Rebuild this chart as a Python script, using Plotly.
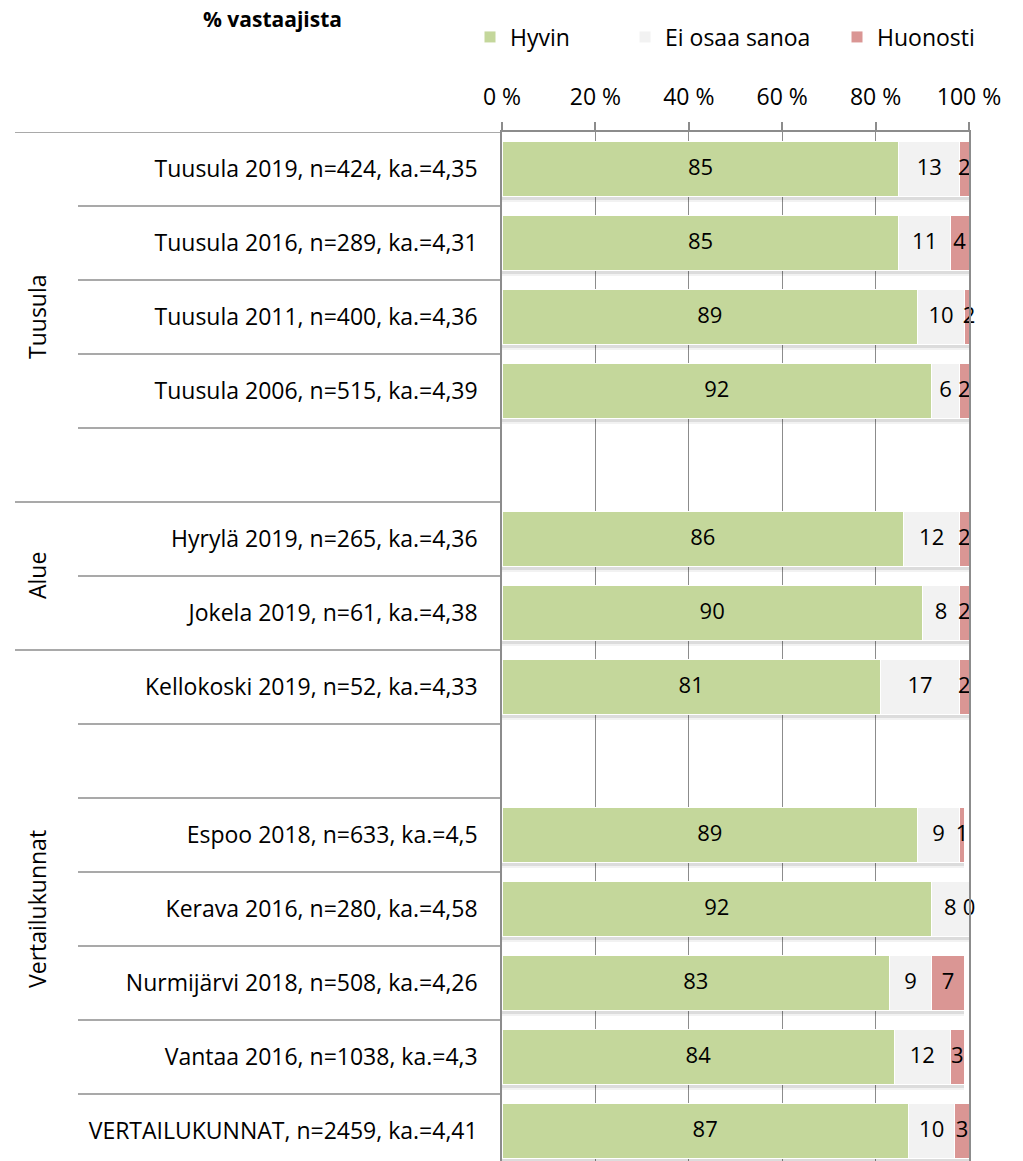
import plotly.graph_objects as go

# Survey rows (top to bottom); empty strings are spacer rows
categories = [
    "Tuusula 2019, n=424, ka.=4,35",
    "Tuusula 2016, n=289, ka.=4,31",
    "Tuusula 2011, n=400, ka.=4,36",
    "Tuusula 2006, n=515, ka.=4,39",
    "",
    "Hyrylä 2019, n=265, ka.=4,36",
    "Jokela 2019, n=61, ka.=4,38",
    "Kellokoski 2019, n=52, ka.=4,33",
    "",
    "Espoo 2018, n=633, ka.=4,5",
    "Kerava 2016, n=280, ka.=4,58",
    "Nurmijärvi 2018, n=508, ka.=4,26",
    "Vantaa 2016, n=1038, ka.=4,3",
    "VERTAILUKUNNAT, n=2459, ka.=4,41",
]

hyvin = [85, 85, 89, 92, None, 86, 90, 81, None, 89, 92, 83, 84, 87]
ei_osaa_sanoa = [13, 11, 10, 6, None, 12, 8, 17, None, 9, 8, 9, 12, 10]
huonosti = [2, 4, 2, 2, None, 2, 2, 2, None, 1, 0, 7, 3, 3]

series_names = ["Hyvin", "Ei osaa sanoa", "Huonosti"]
series_colors = ["#C4D79B", "#F2F2F2", "#DA9694"]

groups = ["Tuusula", "Alue", "Vertailukunnat"]
group_rows = [(0, 4), (5, 6), (7, 13)]

x_ticks = [0, 20, 40, 60, 80, 100]
x_ticklabels = ["0 %", "20 %", "40 %", "60 %", "80 %", "100 %"]

title_text = "% vastaajista"

# ---- layout geometry (pixels) ----
W, H = 1023, 1161
L, R, T, B = 502, 54, 132, 0
ROW_PX = 74
plot_w = W - L - R
plot_h = H - T - B
n_rows = len(categories)
y_bottom = -0.5 + plot_h / ROW_PX  # rows beyond the page edge are cut off


def px_x(px):
    return (px - L) / plot_w


def px_y(py):
    return (H - B - py) / plot_h


FONT = "Open Sans, Noto Sans, sans-serif"
LINE_COL = "#8C8C8C"
BAR_W = 0.73
LABEL_SIZE = 23
VALUE_SIZE = 22

rows = list(range(n_rows))
fig = go.Figure()

# soft drop shadow under each stacked bar (two layers for a gradient)
totals = []
for a, b, c in zip(hyvin, ei_osaa_sanoa, huonosti):
    totals.append(None if a is None else a + b + c)
for off, alpha in [(0.085, 0.05), (0.05, 0.09)]:
    fig.add_trace(go.Bar(
        orientation="h", y=[r + off for r in rows], x=totals, width=BAR_W,
        marker=dict(color=f"rgba(0,0,0,{alpha})", line=dict(width=0)),
        showlegend=False, hoverinfo="skip",
    ))

series_values = [hyvin, ei_osaa_sanoa, huonosti]
legend_ids = ["legend", "legend2", "legend3"]
for name, vals, col, lg in zip(series_names, series_values, series_colors, legend_ids):
    fig.add_trace(go.Bar(
        orientation="h", y=rows, x=vals, name=name, width=BAR_W,
        marker=dict(color=col, line=dict(color="white", width=1)),
        legend=lg,
    ))

# value labels centred on each segment
base = [0 if v is not None else None for v in hyvin]
for vals in series_values:
    xs, ys, ts = [], [], []
    for i, v in enumerate(vals):
        if v is None:
            continue
        xs.append(base[i] + v / 2)
        ys.append(i)
        ts.append(str(v))
        base[i] += v
    fig.add_trace(go.Scatter(
        x=xs, y=ys, text=ts, mode="text", textposition="middle center",
        textfont=dict(family=FONT, size=VALUE_SIZE, color="#000000"),
        cliponaxis=False, showlegend=False, hoverinfo="skip",
    ))

# category separators on the left side
shapes = []
group_edges = {-0.5} | {g[1] + 0.5 for g in group_rows[:-1]}
for k in range(n_rows):
    yb = k - 0.5
    x0 = px_x(15) if yb in group_edges else px_x(78)
    shapes.append(dict(type="line", xref="paper", yref="y", x0=x0, x1=0,
                       y0=yb, y1=yb, line=dict(color=LINE_COL, width=1.5)))

annotations = []
for g, (r0, r1) in zip(groups, group_rows):
    annotations.append(dict(
        text=g, xref="paper", yref="y", x=px_x(37), y=(r0 + r1) / 2,
        textangle=-90, showarrow=False, xanchor="center", yanchor="middle",
        font=dict(family=FONT, size=LABEL_SIZE, color="#000000"),
    ))
annotations.append(dict(
    text="<b>" + title_text + "</b>", xref="paper", yref="paper",
    x=px_x(272), y=px_y(19), showarrow=False, xanchor="center", yanchor="middle",
    font=dict(family=FONT, size=21, color="#000000"),
))

tick_rows = [i for i, c in enumerate(categories) if c]
tick_text = [categories[i] for i in tick_rows]

legend_style = dict(
    orientation="h", yanchor="middle", y=px_y(37), xanchor="left",
    font=dict(family=FONT, size=LABEL_SIZE, color="#000000"),
    bgcolor="rgba(0,0,0,0)", itemwidth=30, itemclick=False,
)

fig.update_layout(
    width=W, height=H,
    margin=dict(l=L, r=R, t=T, b=B, pad=0),
    barmode="stack",
    plot_bgcolor="white", paper_bgcolor="white",
    font=dict(family=FONT, size=LABEL_SIZE, color="#000000"),
    xaxis=dict(
        side="top", range=[0, 100], tickvals=x_ticks, ticktext=x_ticklabels,
        showgrid=True, gridcolor=LINE_COL, gridwidth=1,
        showline=True, linecolor=LINE_COL, linewidth=1.5,
        ticks="outside", ticklen=8, tickcolor=LINE_COL, tickwidth=1.5,
        ticklabelstandoff=8, zeroline=False,
        tickfont=dict(family=FONT, size=23, color="#000000"),
    ),
    yaxis=dict(
        range=[y_bottom, -0.5], tickvals=tick_rows, ticktext=tick_text,
        showgrid=False, zeroline=False, showline=True, mirror=True,
        linecolor=LINE_COL, linewidth=1.5, ticks="", ticklabelstandoff=18,
        tickfont=dict(family=FONT, size=LABEL_SIZE, color="#000000"),
    ),
    legend=dict(legend_style, x=px_x(470)),
    legend2=dict(legend_style, x=px_x(625)),
    legend3=dict(legend_style, x=px_x(837)),
    shapes=shapes,
    annotations=annotations,
    showlegend=True,
)

fig.write_html("out.html")
